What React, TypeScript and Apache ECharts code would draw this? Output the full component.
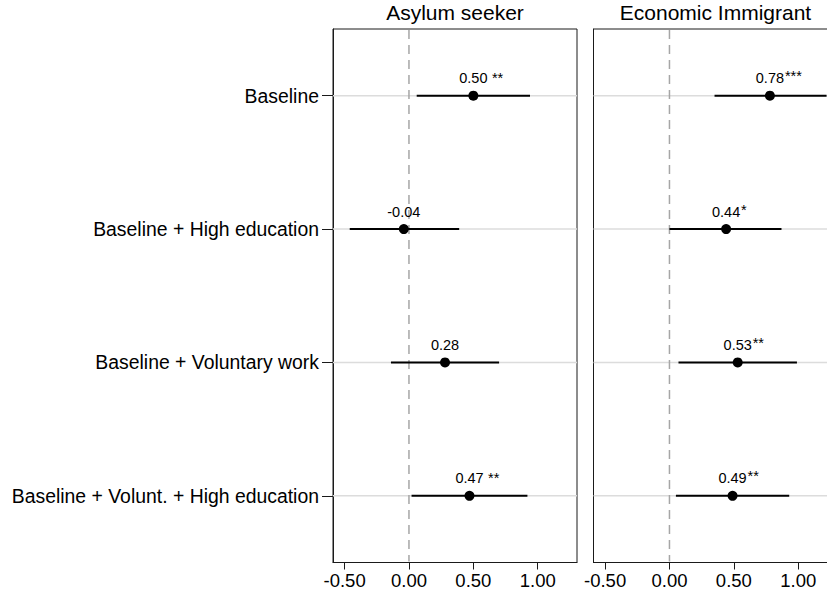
import React, { useEffect, useRef } from "react";
import * as echarts from "echarts";

const categories = [
  "Baseline",
  "Baseline + High education",
  "Baseline + Voluntary work",
  "Baseline + Volunt. + High education",
];
const panelTitles = ["Asylum seeker", "Economic Immigrant"];

const asylumEst = [0.5, -0.04, 0.28, 0.47];
const asylumLo = [0.06, -0.46, -0.14, 0.02];
const asylumHi = [0.94, 0.39, 0.7, 0.92];
const asylumStars = [" **", "", "", " **"];

const econEst = [0.78, 0.44, 0.53, 0.49];
const econLo = [0.35, 0.0, 0.07, 0.05];
const econHi = [1.22, 0.87, 0.99, 0.93];
const econStars = ["***", "*", "**", "**"];

const xTicks = [-0.5, 0, 0.5, 1.0];
const refValue = [0];

const FONT = "'Liberation Sans', Arial, Helvetica, sans-serif";

export default function App() {
  const ref = useRef<HTMLDivElement>(null);

  useEffect(() => {
    if (!ref.current) return;
    const chart = echarts.init(ref.current, null, { renderer: "svg" });

    const grids = [
      { left: 333, top: 29, width: 244, height: 533.5 },
      { left: 593.5, top: 29, width: 244, height: 533.5 },
    ];

    const panels = [
      { est: asylumEst, lo: asylumLo, hi: asylumHi, stars: asylumStars, starOffset: [14.5, 0] },
      { est: econEst, lo: econLo, hi: econHi, stars: econStars, starOffset: [15, -2] },
    ];

    const series: any[] = [];
    panels.forEach((p, gi) => {
      // light horizontal grid lines at each category
      series.push({
        type: "custom",
        xAxisIndex: gi,
        yAxisIndex: gi,
        z: 1,
        silent: true,
        encode: { x: 0, y: 1 },
        data: categories.map((_, i) => [p.est[i], i]),
        renderItem: (params: any, api: any) => {
          const cs = params.coordSys;
          const c = api.coord([api.value(0), api.value(1)]);
          return {
            type: "line",
            shape: { x1: cs.x, y1: c[1], x2: cs.x + cs.width, y2: c[1] },
            style: { stroke: "#dcdcdc", lineWidth: 1.5 },
          };
        },
      });
      // dashed reference line at zero
      series.push({
        type: "custom",
        xAxisIndex: gi,
        yAxisIndex: gi,
        z: 2,
        silent: true,
        encode: { x: 0 },
        data: refValue.map((v) => [v, 0]),
        renderItem: (params: any, api: any) => {
          const cs = params.coordSys;
          const c = api.coord([api.value(0), 0]);
          return {
            type: "line",
            shape: { x1: c[0], y1: cs.y + 1, x2: c[0], y2: cs.y + cs.height - 1 },
            style: { stroke: "#a6a6a6", lineWidth: 1.5, lineDash: [9, 6] },
          };
        },
      });
      // confidence intervals
      series.push({
        type: "custom",
        xAxisIndex: gi,
        yAxisIndex: gi,
        z: 3,
        encode: { x: [0, 1], y: 2 },
        data: categories.map((_, i) => [p.lo[i], p.hi[i], i]),
        renderItem: (params: any, api: any) => {
          const a = api.coord([api.value(0), api.value(2)]);
          const b = api.coord([api.value(1), api.value(2)]);
          return {
            type: "line",
            shape: { x1: a[0], y1: a[1], x2: b[0], y2: b[1] },
            style: { stroke: "#000", lineWidth: 2 },
          };
        },
      });
      // point estimates with value labels
      series.push({
        type: "scatter",
        xAxisIndex: gi,
        yAxisIndex: gi,
        z: 4,
        symbolSize: 10,
        itemStyle: { color: "#000", opacity: 1 },
        data: p.est.map((v, i) => [v, i]),
        label: {
          show: true,
          position: "top",
          distance: 5,
          fontSize: 14.5,
          fontFamily: FONT,
          color: "#000",
          opacity: 1,
          formatter: (d: any) => d.value[0].toFixed(2),
        },
      });
      // significance stars
      series.push({
        type: "scatter",
        xAxisIndex: gi,
        yAxisIndex: gi,
        z: 5,
        symbolSize: 10,
        itemStyle: { color: "rgba(0,0,0,0)", opacity: 1 },
        data: p.est.map((v, i) => ({ value: [v, i], label: { show: p.stars[i] !== "" } })),
        label: {
          show: true,
          position: "top",
          distance: 5,
          align: "left",
          offset: p.starOffset,
          fontSize: 14.5,
          fontFamily: FONT,
          color: "#000",
          opacity: 1,
          formatter: (d: any) => p.stars[d.dataIndex],
        },
      });
    });

    const option: any = {
      animation: false,
      backgroundColor: "#fff",
      grid: grids.map((g) => ({
        ...g,
        show: true,
        borderColor: "#1a1a1a",
        borderWidth: 1,
        backgroundColor: "transparent",
        containLabel: false,
        outerBoundsMode: "none",
      })),
      graphic: panelTitles.map((t, i) => ({
        type: "text",
        x: grids[i].left + grids[i].width / 2,
        y: 12.6,
        style: {
          text: t,
          fontSize: 21,
          fontFamily: FONT,
          fill: "#000",
          align: "center",
          verticalAlign: "middle",
        },
      })),
      xAxis: [0, 1].map((gi) => ({
        type: "value",
        gridIndex: gi,
        min: -0.59,
        max: 1.305,
        splitLine: { show: false },
        axisLine: { show: true, onZero: false, lineStyle: { color: "#1a1a1a", width: 1 } },
        axisTick: {
          show: true,
          length: 7,
          customValues: xTicks,
          lineStyle: { color: "#1a1a1a", width: 1 },
        },
        axisLabel: {
          customValues: xTicks,
          fontSize: 18.5,
          fontFamily: FONT,
          color: "#000",
          margin: 8,
          formatter: (v: number) => v.toFixed(2),
        },
      })),
      yAxis: [0, 1].map((gi) => ({
        type: "category",
        gridIndex: gi,
        inverse: true,
        data: categories,
        boundaryGap: true,
        splitLine: { show: false },
        axisLine: { show: true, onZero: false, lineStyle: { color: "#1a1a1a", width: 1 } },
        axisTick: {
          show: gi === 0,
          alignWithLabel: true,
          length: 11,
          lineStyle: { color: "#1a1a1a", width: 1 },
        },
        axisLabel: {
          show: gi === 0,
          fontSize: 19.4,
          fontFamily: FONT,
          color: "#000",
          margin: 14,
        },
      })),
      series,
    };

    chart.setOption(option);
    return () => chart.dispose();
  }, []);

  return (
    <div
      ref={ref}
      style={{ position: "fixed", left: 0, top: 0, width: 827, height: 599, background: "#fff" }}
    />
  );
}
